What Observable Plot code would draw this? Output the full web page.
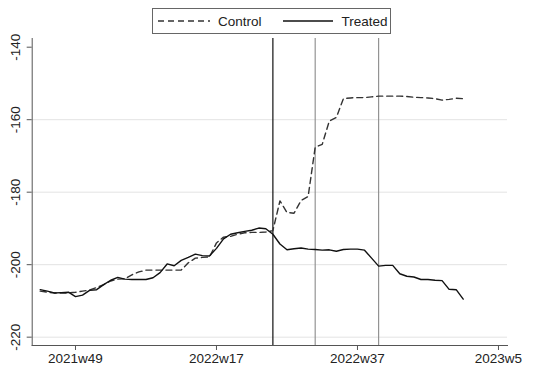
<!DOCTYPE html>
<html>
<head>
<meta charset="utf-8">
<script src="https://cdn.jsdelivr.net/npm/d3@7"></script>
<script src="https://cdn.jsdelivr.net/npm/@observablehq/plot@0.6"></script>
<style>
  html, body { margin: 0; padding: 0; background: #fff; }
  #wrap { position: relative; width: 534px; height: 370px; font-family: "Liberation Sans", Arial, sans-serif; }
  #legend { position: absolute; left: 152px; top: 8px; }
</style>
</head>
<body>
<div id="wrap">
  <div id="chart"></div>
  <svg id="legend" width="240" height="27">
    <rect x="0.5" y="0.5" width="238" height="25" fill="#fff" stroke="#666" stroke-width="1"></rect>
    <line x1="6" x2="58" y1="13" y2="13" stroke="#333" stroke-width="1.4" stroke-dasharray="6,4"></line>
    <text x="66" y="17.8" font-size="13.5" fill="#222">Control</text>
    <line x1="131" x2="181" y1="13" y2="13" stroke="#111" stroke-width="1.4"></line>
    <text x="189.5" y="17.8" font-size="13.5" fill="#222">Treated</text>
  </svg>
</div>
<script>
const weeks = [
  "2021w44","2021w45","2021w46","2021w47","2021w48","2021w49","2021w50","2021w51","2021w52",
  "2022w1","2022w2","2022w3","2022w4","2022w5","2022w6","2022w7","2022w8","2022w9","2022w10",
  "2022w11","2022w12","2022w13","2022w14","2022w15","2022w16","2022w17","2022w18","2022w19","2022w20",
  "2022w21","2022w22","2022w23","2022w24","2022w25","2022w26","2022w27","2022w28","2022w29","2022w30",
  "2022w31","2022w32","2022w33","2022w34","2022w35","2022w36","2022w37","2022w38","2022w39","2022w40",
  "2022w41","2022w42","2022w43","2022w44","2022w45","2022w46","2022w47","2022w48","2022w49","2022w50",
  "2022w51","2022w52"
];
const control = [
  -207.3,-207.6,-207.8,-207.8,-207.8,-207.6,-207.3,-207.0,-206.3,
  -205.5,-204.5,-204.0,-203.9,-202.8,-202.0,-201.5,-201.5,-201.5,-201.5,
  -201.5,-201.5,-199.5,-198.2,-198.0,-197.9,-194.0,-192.4,-192.2,-191.6,
  -191.2,-191.1,-191.1,-191.0,-190.6,-182.4,-185.6,-185.8,-182.3,-181.2,
  -167.6,-166.8,-160.4,-159.4,-154.2,-154.0,-153.9,-153.9,-153.7,-153.5,
  -153.5,-153.5,-153.5,-153.6,-153.8,-153.9,-154.0,-154.2,-154.6,-154.4,
  -154.1,-154.2
];
const treated = [
  -206.9,-207.3,-207.8,-207.7,-207.6,-208.8,-208.4,-207.1,-206.9,
  -205.5,-204.3,-203.5,-204.0,-204.1,-204.1,-204.1,-203.6,-202.2,-199.8,
  -200.3,-198.8,-198.0,-197.1,-197.5,-197.6,-195.5,-192.9,-191.6,-191.2,
  -190.8,-190.5,-189.9,-190.1,-191.6,-194.3,-195.9,-195.6,-195.4,-195.7,
  -195.8,-196.0,-195.9,-196.3,-195.8,-195.7,-195.7,-196.0,-198.2,-200.4,
  -200.2,-200.2,-202.5,-203.2,-203.4,-204.1,-204.1,-204.3,-204.4,-206.8,
  -206.9,-209.5
];
const xTickLabels = ["2021w49","2022w17","2022w37","2023w5"];
const yTicks = [-220,-200,-180,-160,-140];
const gridTicks = [-220,-200,-180,-160];
const treatStart = ["2022w25"];
const otherEvents = ["2022w31","2022w40"];

// Stata-style weekly index (52 weeks per year), relative to 2021w49
function wk(s) {
  const [y, w] = s.split("w").map(Number);
  return (y - 2021) * 52 + w - 49;
}
const labelOf = new Map(xTickLabels.map(s => [wk(s), s]));

const dataC = weeks.map((w, i) => ({t: wk(w), v: control[i]}));
const dataT = weeks.map((w, i) => ({t: wk(w), v: treated[i]}));

const chart = Plot.plot({
  width: 534,
  height: 370,
  marginTop: 38,
  marginBottom: 25,
  marginLeft: 31.7,
  marginRight: 27,
  x: {domain: [-6.14, 61.28]},
  y: {domain: [-222.3, -137.6]},
  style: {fontFamily: "Liberation Sans, Arial, sans-serif", fontSize: "13.5px", color: "#222", background: "transparent", overflow: "visible"},
  marks: [
    Plot.ruleY(gridTicks, {stroke: "#e3e3e3", strokeWidth: 1}),
    Plot.ruleX(otherEvents.map(wk), {stroke: "#8a8a8a", strokeWidth: 1.1}),
    Plot.ruleX(treatStart.map(wk), {stroke: "#111", strokeWidth: 1.2}),
    Plot.line(dataC, {x: "t", y: "v", stroke: "#333", strokeWidth: 1.4, strokeDasharray: "6,4"}),
    Plot.line(dataT, {x: "t", y: "v", stroke: "#111", strokeWidth: 1.4}),
    Plot.axisX(xTickLabels.map(wk), {tickSize: 5, tickPadding: 3, tickFormat: d => labelOf.get(d), label: null, stroke: "#555", fill: "#222", fontSize: 13.5}),
    Plot.axisY(yTicks, {tickSize: 5, tickFormat: () => "", label: null, stroke: "#555"}),
    Plot.text(yTicks, {y: d => d, text: d => String(d), frameAnchor: "left", dx: -16.7, rotate: -90, textAnchor: "middle", lineAnchor: "middle", fontSize: 13.5, fill: "#222"}),
    Plot.frame({anchor: "left", stroke: "#555"}),
    Plot.frame({anchor: "bottom", stroke: "#555"})
  ]
});
document.getElementById("chart").appendChild(chart);
</script>
</body>
</html>
